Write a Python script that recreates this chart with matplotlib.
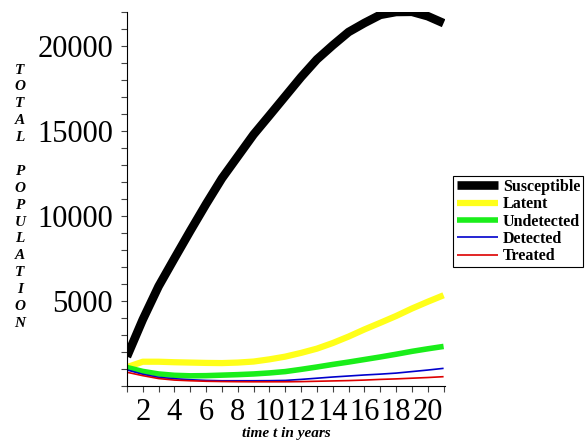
import matplotlib
matplotlib.use('Agg')
import matplotlib.pyplot as plt
from matplotlib.ticker import MultipleLocator

# values, one per year
t = [1, 2, 3, 4, 5, 6, 7, 8, 9, 10, 11, 12, 13, 14, 15, 16, 17, 18, 19, 20, 21]
susceptible = [1720, 3900, 5860, 7500, 9120, 10700, 12210, 13500, 14790, 15910, 17040,
               18170, 19210, 20040, 20820, 21350, 21830, 22000, 22010, 21750, 21340]
latent = [1100, 1420, 1420, 1390, 1370, 1350, 1340, 1370, 1430, 1560, 1720,
          1940, 2190, 2520, 2900, 3320, 3710, 4110, 4550, 4950, 5330]
undetected = [1080, 850, 700, 620, 590, 600, 630, 660, 700, 760, 840,
              970, 1110, 1260, 1400, 1550, 1700, 1860, 2030, 2180, 2320]
detected = [940, 680, 500, 420, 360, 320, 300, 300, 300, 305, 320,
            380, 450, 520, 580, 640, 690, 750, 840, 930, 1030]
treated = [800, 600, 430, 340, 300, 270, 255, 245, 240, 240, 240,
           250, 270, 290, 310, 340, 380, 410, 450, 490, 540]

labels = ['Susceptible', 'Latent', 'Undetected', 'Detected', 'Treated']
series = [susceptible, latent, undetected, detected, treated]
colors = ['black', '#ffff1a', '#1aee1a', '#0000cc', '#dd0000']
widths = [6.2, 4.5, 4, 1.2, 1.2]

serif = 'Liberation Serif'

fig = plt.figure(figsize=(5.85, 4.43), dpi=100)
ax = fig.add_axes([0.217, 0.129, 0.544, 0.844])

for y, c, lw, lab in zip(series, colors, widths, labels):
    ax.plot(t, y, color=c, lw=lw, label=lab, solid_capstyle='butt')

ax.set_xlim(1, 21.1)
ax.set_ylim(0, 22000)
ax.spines['top'].set_visible(False)
ax.spines['right'].set_visible(False)
ax.xaxis.set_minor_locator(MultipleLocator(1))
ax.yaxis.set_minor_locator(MultipleLocator(1000))
ax.set_xticks(range(2, 21, 2))
ax.set_yticks([5000, 10000, 15000, 20000])
ax.tick_params(which='both', length=4, width=0.8, color='#444444', labelsize=22)
ax.tick_params(axis='y', pad=6)
ax.tick_params(axis='x', pad=5)
for lbl in ax.get_xticklabels() + ax.get_yticklabels():
    lbl.set_fontfamily(serif)

# stacked vertical y label
ylab = 'TOTAL POPULATION'
for i, ch in enumerate(ylab):
    fig.text(20 / 585, 1 - (70 + i * 16.9) / 443, ch, ha='center', va='center',
             fontsize=11, fontweight='bold', fontstyle='italic', family=serif)

fig.text(286 / 585, 1 - 433 / 443, 'time t in years', ha='center', va='center',
         fontsize=11, fontweight='bold', fontstyle='italic', family=serif)

leg = fig.legend(loc='upper left', bbox_to_anchor=(0.775, 0.603),
                 prop={'family': serif, 'weight': 'bold', 'size': 11.5},
                 frameon=True, fancybox=False, edgecolor='black', framealpha=1,
                 handlelength=2.6, handletextpad=0.3, labelspacing=0.08,
                 borderpad=0.2, borderaxespad=0)
leg.get_frame().set_linewidth(0.8)

fig.savefig('out.png', dpi=100)
